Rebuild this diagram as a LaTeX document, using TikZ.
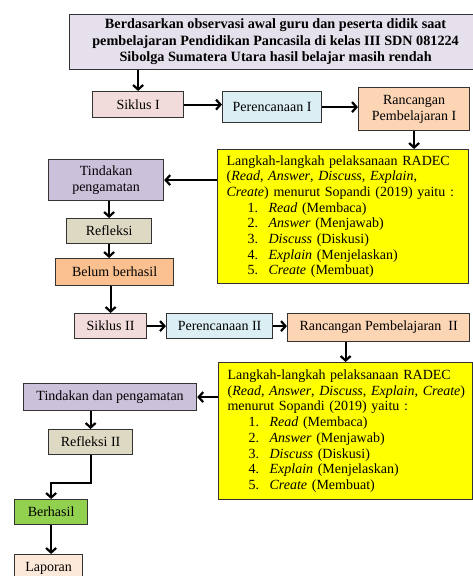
\documentclass[tikz,border=0pt]{standalone}
\usepackage{fontspec}
\setmainfont{Liberation Serif}
\usetikzlibrary{arrows.meta}
\definecolor{cTop}{HTML}{E6E0EC}
\definecolor{cSik}{HTML}{F2DCDB}
\definecolor{cPer}{HTML}{DBEEF4}
\definecolor{cRan}{HTML}{FCD5B5}
\definecolor{cYel}{HTML}{FFFF00}
\definecolor{cTin}{HTML}{CCC1DA}
\definecolor{cRef}{HTML}{DDD9C3}
\definecolor{cBel}{HTML}{FAC090}
\definecolor{cBer}{HTML}{92D050}
\definecolor{cLap}{HTML}{FDE9D9}
\newcommand\fsz{\fontsize{14}{15.7}\selectfont}
\newcommand\itm[3]{\hspace*{21pt}\makebox[21pt][l]{#1.}\textit{#2} (#3)}
\tikzset{
  box/.style={draw=black!80, line width=1.2pt, anchor=north west, inner sep=0pt, align=center, font=\fsz},
  arr/.style={line width=2.2pt, -{Straight Barb[length=4.5pt,width=10pt]}}
}
\begin{document}
\begin{tikzpicture}[x=1pt,y=-1pt]
\useasboundingbox (0,0) rectangle (473,576);
\begin{scope}
\clip (0,0) rectangle (473,576);
% top
\node[box, fill=cTop, minimum width=412pt, minimum height=55pt, font=\fontsize{14.2}{16.5}\selectfont\bfseries] (top) at (69,14)
 {Berdasarkan observasi awal guru dan peserta didik saat\\ pembelajaran Pendidikan Pancasila di kelas III SDN 081224\\ Sibolga Sumatera Utara hasil belajar masih rendah};
% cycle I
\node[box, fill=cSik, minimum width=91pt, minimum height=26pt] (s1) at (92,91) {Siklus I};
\node[box, fill=cPer, minimum width=99pt, minimum height=31pt] (p1) at (222,91) {Perencanaan I};
\node[box, fill=cRan, minimum width=111pt, minimum height=43pt] (r1) at (358,87) {Rancangan\\ Pembelajaran I};
\node[box, fill=cYel, align=left, inner xsep=8pt, minimum width=251pt, minimum height=134pt, text width=233pt] (y1) at (217,149)
 {\makebox[233pt][s]{Langkah-langkah pelaksanaan RADEC}\\
  \makebox[233pt][s]{(\textit{Read}, \textit{Answer}, \textit{Discuss}, \textit{Explain},}\\
  \textit{Create}) menurut Sopandi (2019) yaitu :\\
  \itm{1}{Read}{Membaca}\\
  \itm{2}{Answer}{Menjawab}\\
  \itm{3}{Discuss}{Diskusi}\\
  \itm{4}{Explain}{Menjelaskan}\\
  \itm{5}{Create}{Membuat}};
\node[box, fill=cTin, minimum width=115pt, minimum height=41pt] (t1) at (48,159) {Tindakan\\ pengamatan};
\node[box, fill=cRef, minimum width=85pt, minimum height=25pt] (f1) at (66,218) {Refleksi};
\node[box, fill=cBel, minimum width=118pt, minimum height=27pt] (bb) at (55,258) {Belum berhasil};
% cycle II
\node[box, fill=cSik, minimum width=72pt, minimum height=25pt] (s2) at (74,313) {Siklus II};
\node[box, fill=cPer, minimum width=106pt, minimum height=25pt] (p2) at (166,313) {Perencanaan II};
\node[box, fill=cRan, minimum width=182pt, minimum height=28pt] (r2) at (287,313) {Rancangan Pembelajaran\ \ II};
\node[box, fill=cYel, align=left, inner xsep=8pt, minimum width=254pt, minimum height=137pt, text width=236pt] (y2) at (218,362)
 {\makebox[236pt][s]{Langkah-langkah pelaksanaan RADEC}\\
  \makebox[236pt][s]{(\textit{Read}, \textit{Answer}, \textit{Discuss}, \textit{Explain}, \textit{Create})}\\
  menurut Sopandi (2019) yaitu :\\
  \itm{1}{Read}{Membaca}\\
  \itm{2}{Answer}{Menjawab}\\
  \itm{3}{Discuss}{Diskusi}\\
  \itm{4}{Explain}{Menjelaskan}\\
  \itm{5}{Create}{Membuat}};
\node[box, fill=cTin, minimum width=173pt, minimum height=27pt] (t2) at (23,383) {Tindakan dan pengamatan};
\node[box, fill=cRef, minimum width=84pt, minimum height=25pt] (f2) at (48,429) {Refleksi II};
\node[box, fill=cBer, minimum width=73pt, minimum height=25pt] (ber) at (14,499) {Berhasil};
\node[box, fill=cLap, minimum width=68pt, minimum height=28pt] (lap) at (14,554) {Laporan};
% connectors
\draw[arr] (s1.north |- top.south) -- (s1.north);
\draw[arr] (s1.east) -- (s1.east -| p1.west);
\draw[arr] (p1.east) -- (p1.east -| r1.west);
\draw[arr] (r1.south) -- (r1.south |- y1.north);
\draw[arr] (y1.west |- t1.east) -- (t1.east);
\draw[arr] (f1.north |- t1.south) -- (f1.north);
\draw[arr] (f1.south) -- (f1.south |- bb.north);
\draw[arr] (s2.north |- bb.south) -- (s2.north);
\draw[arr] (s2.east) -- (s2.east -| p2.west);
\draw[arr] (p2.east) -- (p2.east -| r2.west);
\draw[arr] (r2.south -| y2.north) -- (y2.north);
\draw[arr] (y2.west |- t2.east) -- (t2.east);
\draw[arr] (f2.north |- t2.south) -- (f2.north);
\draw[arr] (f2.south) -- ++(0,28) -| (ber.north);
\draw[arr] (ber.south) -- (lap.north -| ber.south);
\end{scope}
\end{tikzpicture}
\end{document}
